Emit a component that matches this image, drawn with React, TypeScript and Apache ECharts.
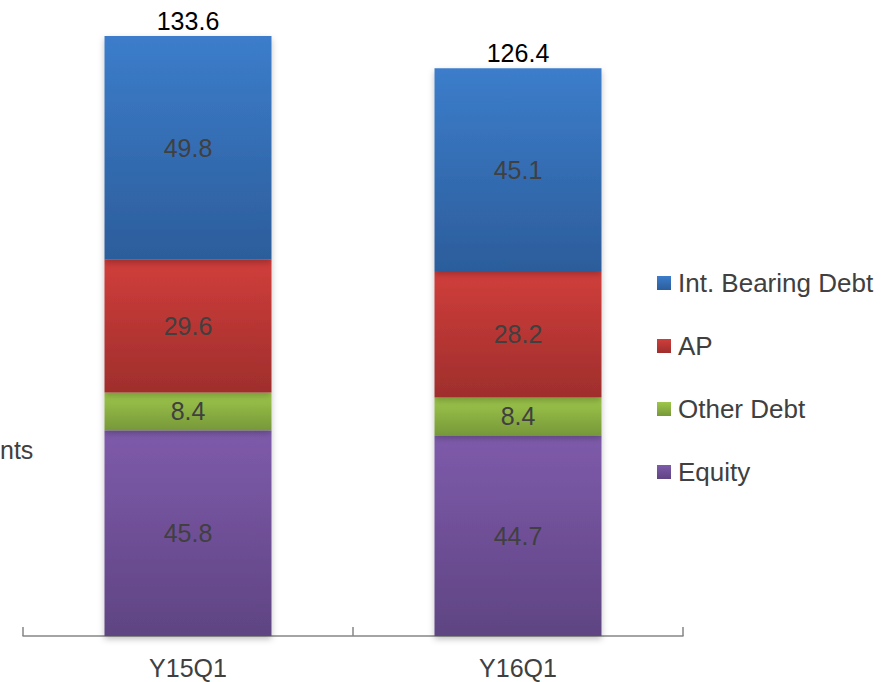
import React, { useEffect, useRef } from "react";
import * as echarts from "echarts";

const categories = ["Y15Q1", "Y16Q1"];
const equity = [45.8, 44.7];
const otherDebt = [8.4, 8.4];
const ap = [29.6, 28.2];
const intBearingDebt = [49.8, 45.1];
const totals = [133.6, 126.4];
const legendOrder = ["Int. Bearing Debt", "AP", "Other Debt", "Equity"];

const grad = (top: string, bottom: string) =>
  new echarts.graphic.LinearGradient(0, 0, 0, 1, [
    { offset: 0, color: top },
    { offset: 1, color: bottom },
  ]);

export default function App() {
  const ref = useRef<HTMLDivElement>(null);
  useEffect(() => {
    document.body.style.margin = "0";
    const chart = echarts.init(ref.current!, null, { renderer: "svg" });
    const font = "Liberation Sans, Arial, sans-serif";
    const segLabel = {
      show: true,
      position: "inside" as const,
      color: "#404040",
      fontSize: 25,
      fontFamily: font,
      formatter: (p: any) => p.value.toFixed(1),
    };
    const shadow = {
      shadowColor: "rgba(0,0,0,0.25)",
      shadowBlur: 6,
      shadowOffsetX: 0,
      shadowOffsetY: 3,
    };
    const mk = (name: string, data: number[], top: string, bottom: string) => ({
      name,
      type: "bar",
      stack: "total",
      barWidth: "50.6%",
      data,
      itemStyle: { color: grad(top, bottom), ...shadow },
      label: segLabel,
    });
    chart.setOption({
      animation: false,
      grid: { left: 23, right: 208, top: 36, bottom: 46 },
      legend: {
        orient: "vertical",
        left: 652,
        top: 263,
        itemWidth: 14,
        itemHeight: 14,
        itemGap: 33,
        icon: "rect",
        data: legendOrder,
        textStyle: {
          color: "#404040",
          fontSize: 26,
          fontFamily: font,
          lineHeight: 30,
          padding: [0, 0, 0, 2],
        },
      },
      xAxis: {
        type: "category",
        data: categories,
        axisLine: { lineStyle: { color: "#868686", width: 1.5 } },
        axisTick: { show: true, inside: true, length: 9, lineStyle: { color: "#868686", width: 1.5 } },
        axisLabel: { color: "#404040", fontSize: 25, fontFamily: font, margin: 19 },
      },
      yAxis: {
        type: "value",
        min: 0,
        max: 133.6,
        show: false,
        splitLine: { show: false },
      },
      graphic: [
        {
          type: "text",
          left: 0,
          top: 437,
          style: { text: "nts", fill: "#404040", fontSize: 25, fontFamily: font },
        },
      ],
      series: [
        mk("Equity", equity, "#7e5bab", "#5f4482"),
        mk("Other Debt", otherDebt, "#9ec74b", "#779839"),
        mk("AP", ap, "#d03e3b", "#9f2e2c"),
        mk("Int. Bearing Debt", intBearingDebt, "#3c7dcb", "#2c5d9b"),
        {
          name: "total",
          type: "bar",
          stack: "total",
          data: totals.map(() => 0),
          itemStyle: { color: "transparent" },
          label: {
            show: true,
            position: "top",
            distance: 3,
            color: "#000000",
            fontSize: 25,
            fontFamily: font,
            formatter: (p: any) => totals[p.dataIndex].toFixed(1),
          },
        },
      ],
    });
    return () => chart.dispose();
  }, []);
  return <div ref={ref} style={{ width: 891, height: 682 }} />;
}
